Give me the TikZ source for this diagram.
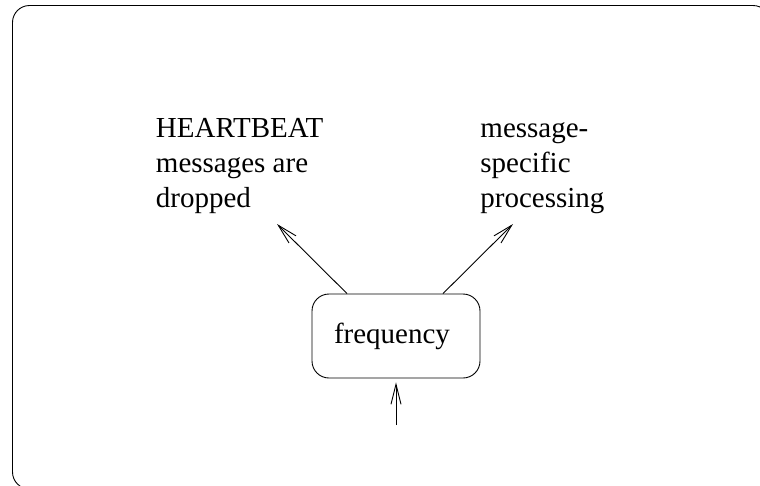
\documentclass[tikz,border=0pt]{standalone}
\usepackage{fontspec}
\setmainfont{Liberation Serif}
\usetikzlibrary{arrows.meta}
\begin{document}
\begin{tikzpicture}[x=1pt, y=-1pt, line width=0.9pt,
  >={Straight Barb[length=20pt,width=10pt]},
  lbl/.style={font=\fontsize{29}{35}\selectfont, align=left, inner sep=0pt, anchor=north west},
  procbox/.style={draw, rounded corners=17pt, minimum width=168pt, minimum height=84pt,
    inner sep=0pt, font=\fontsize{29}{35}\selectfont}]
\useasboundingbox (0,0) rectangle (760,485);
\clip (0,0) rectangle (760,485);
% outer frame
\draw[rounded corners=17pt] (12.5,5.5) rectangle (770,489);
% central state box
\node[procbox] (freq) at (396,336) {frequency\hspace*{8pt}};
% outcome labels
\node[lbl] (drop) at (155.5,112.5) {\strut HEARTBEAT\\\strut messages are\\\strut dropped};
\node[lbl] (proc) at (480,112.5) {\strut message-\\\strut specific\\\strut processing};
% input point below the box
\coordinate (in) at (396,425);
\coordinate (tipL) at (277,224);
\coordinate (tipR) at (513,224);
% connectors
\draw[->] ([xshift=-49pt]freq.north) -- (tipL);
\draw[->] ([xshift=47pt]freq.north) -- (tipR);
\draw[->, shorten >=4pt] (in) -- (freq.south);
\end{tikzpicture}
\end{document}
